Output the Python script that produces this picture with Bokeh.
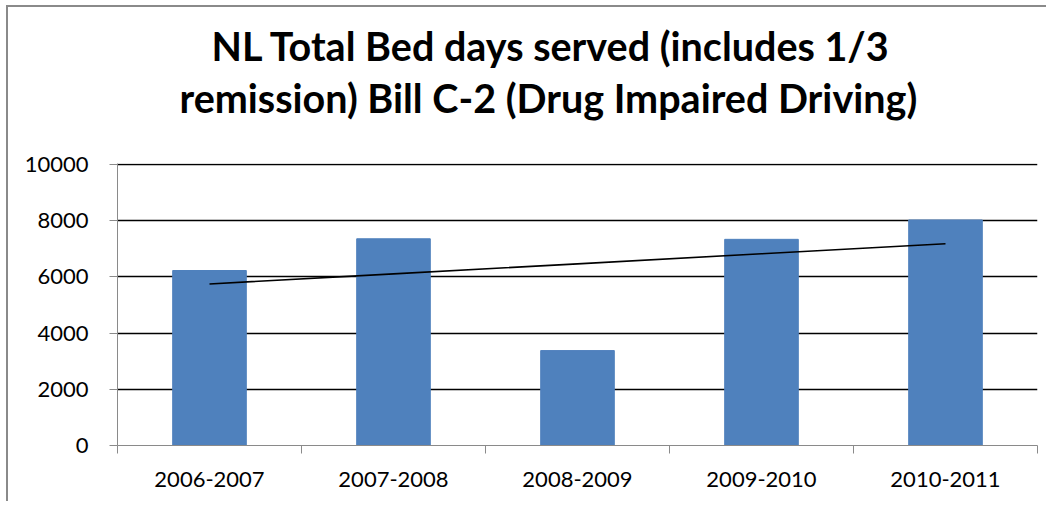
import numpy as np
from bokeh.plotting import figure
from bokeh.models import Range1d, FixedTicker, Title
from bokeh.embed import file_html
from bokeh.resources import INLINE

categories = ["2006-2007", "2007-2008", "2008-2009", "2009-2010", "2010-2011"]
bed_days = [6230, 7360, 3380, 7340, 8030]
y_ticks = [0, 2000, 4000, 6000, 8000, 10000]
title_lines = ["NL Total Bed days served (includes 1/3",
               "remission) Bill C-2 (Drug Impaired Driving)"]

x = np.arange(1, len(categories) + 1)
# linear trendline (least squares fit of the series)
slope, intercept = np.polyfit(x, bed_days, 1)
trend_y = slope * x + intercept

FONT = "Lato"

p = figure(width=1040, height=496, output_backend="svg", toolbar_location=None,
           x_range=Range1d(0.5, len(categories) + 0.5), y_range=Range1d(0, 10040),
           min_border_left=109, min_border_right=11, min_border_top=156, min_border_bottom=58,
           margin=(5, 0, 0, 6),
           styles={"border-left": "2px solid #8a8a8a", "border-top": "2px solid #8a8a8a"})
p.outline_line_color = None
p.background_fill_color = "white"
p.border_fill_color = "white"

p.vbar(x=x, top=bed_days, width=0.4, color="#4F81BD", line_color="#4F81BD")
p.line(x=x, y=trend_y, line_color="black", line_width=1.6)

# y axis
p.yaxis.ticker = FixedTicker(ticks=y_ticks)
p.yaxis.axis_line_color = "#8a8a8a"
p.yaxis.major_tick_line_color = "#8a8a8a"
p.yaxis.major_tick_out = 8
p.yaxis.major_tick_in = 0
p.yaxis.minor_tick_line_color = None
p.yaxis.major_label_text_font = FONT
p.yaxis.major_label_text_font_size = "22px"
p.yaxis.major_label_text_color = "black"
p.yaxis.major_label_standoff = 21

# x axis: labels at category centres, tick marks at category boundaries
boundaries = list(np.arange(0.5, len(categories) + 1, 1.0))
p.xaxis.ticker = FixedTicker(ticks=list(x), minor_ticks=boundaries)
p.xaxis.major_label_overrides = {int(i): c for i, c in zip(x, categories)}
p.xaxis.axis_line_color = "#8a8a8a"
p.xaxis.major_tick_line_color = None
p.xaxis.major_tick_out = 0
p.xaxis.major_tick_in = 0
p.xaxis.minor_tick_line_color = "#8a8a8a"
p.xaxis.minor_tick_out = 8
p.xaxis.minor_tick_in = 0
p.xaxis.major_label_text_font = FONT
p.xaxis.major_label_text_font_size = "22px"
p.xaxis.major_label_text_color = "black"
p.xaxis.major_label_standoff = 18

p.xgrid.grid_line_color = None
p.ygrid.ticker = FixedTicker(ticks=y_ticks)
p.ygrid.grid_line_color = "black"
p.ygrid.grid_line_width = 1.4

# spacer between the plot and the title block
p.add_layout(Title(text=" ", text_font_size="10px", standoff=28), "above")
# title: two stacked lines, the one added first sits nearest the plot
for line, off, so in [(title_lines[1], 62, 4), (title_lines[0], 94, 1)]:
    p.add_layout(Title(text=line, align="left", offset=off, standoff=so,
                       text_font=FONT, text_font_style="bold",
                       text_font_size="39.5px", text_color="black"), "above")

open("out.html", "w").write(file_html(p, INLINE))
